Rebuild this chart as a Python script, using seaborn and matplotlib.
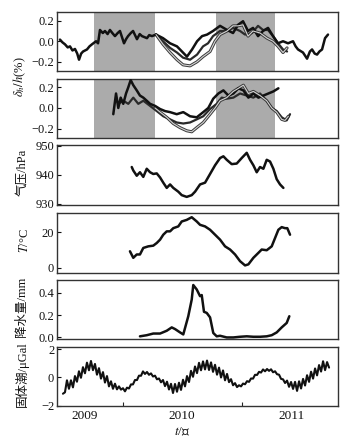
import numpy as np
import pandas as pd
import matplotlib
matplotlib.use("Agg")
import matplotlib.pyplot as plt
import seaborn as sns

sns.set_style("ticks")
plt.rcParams['font.family'] = ['Liberation Serif', 'Noto Sans CJK SC', 'DejaVu Sans']
plt.rcParams['mathtext.fontset'] = 'stix'

# ---------------- data (decimal years, values) ----------------
shade_spans = [(2009.26, 2009.77), (2010.28, 2010.78)]

# panel 1: delta h / h (%)
p1a_t = [2008.970, 2008.990, 2009.012, 2009.035, 2009.054, 2009.075, 2009.096, 2009.115, 2009.130, 2009.148,
         2009.164, 2009.197, 2009.218, 2009.239, 2009.273, 2009.290, 2009.306, 2009.330, 2009.348, 2009.370,
         2009.390, 2009.410, 2009.432, 2009.455, 2009.474, 2009.508, 2009.525, 2009.542, 2009.565, 2009.584,
         2009.617, 2009.640, 2009.659, 2009.701, 2009.720, 2009.743, 2009.777, 2009.836, 2009.895, 2009.953,
         2009.995, 2010.037, 2010.080, 2010.122, 2010.164, 2010.206, 2010.256, 2010.315, 2010.374, 2010.424,
         2010.466, 2010.508, 2010.550, 2010.592, 2010.634, 2010.676, 2010.718, 2010.760, 2010.802, 2010.844,
         2010.886, 2010.928, 2010.950, 2010.970, 2011.012, 2011.046, 2011.070, 2011.088, 2011.110, 2011.130,
         2011.150, 2011.172, 2011.197, 2011.222]
p1a_v = [0.016, -0.01, -0.03, -0.06, -0.05, -0.09, -0.075, -0.12, -0.18, -0.12,
         -0.10, -0.08, -0.05, -0.03, 0.0, -0.02, 0.11, 0.08, 0.10, 0.07,
         0.11, 0.08, 0.05, 0.08, 0.10, -0.02, 0.02, 0.05, 0.08, 0.10,
         0.02, 0.07, 0.05, 0.03, 0.06, 0.05, 0.065, 0.03, -0.02, -0.05,
         -0.10, -0.15, -0.08, 0.0, 0.05, 0.065, 0.10, 0.15, 0.11, 0.08,
         0.16, 0.195, 0.10, 0.13, 0.05, 0.10, 0.13, 0.05, -0.02, 0.0,
         -0.02, 0.0, -0.05, -0.08, -0.11, -0.17, -0.10, -0.08, -0.12, -0.13,
         -0.10, -0.08, 0.03, 0.065]
p1b_t = [2009.777, 2009.836, 2009.895, 2009.953, 2010.004, 2010.063, 2010.122, 2010.172, 2010.214, 2010.256,
         2010.315, 2010.374, 2010.424, 2010.483, 2010.525, 2010.584, 2010.634, 2010.676, 2010.718, 2010.760,
         2010.802, 2010.844, 2010.878]
p1b_v = [0.065, 0.0, -0.065, -0.11, -0.16, -0.18, -0.13, -0.05, -0.02, 0.05,
         0.10, 0.10, 0.13, 0.10, 0.065, 0.08, 0.15, 0.11, 0.11, 0.05,
         -0.02, -0.08, -0.10]
p1c_t = [2009.777, 2009.836, 2009.895, 2009.953, 2010.004, 2010.063, 2010.122, 2010.172, 2010.231, 2010.273,
         2010.315, 2010.374, 2010.424, 2010.466, 2010.508, 2010.550, 2010.592, 2010.651, 2010.710, 2010.760,
         2010.802, 2010.844, 2010.878]
p1c_v = [0.065, -0.03, -0.11, -0.18, -0.23, -0.24, -0.20, -0.15, -0.10, 0.0,
         0.065, 0.10, 0.15, 0.15, 0.16, 0.05, 0.10, 0.08, 0.03, 0.0,
         -0.05, -0.11, -0.065]

# panel 2: delta h / h (%)
p2a_t = [2009.418, 2009.441, 2009.460, 2009.480, 2009.502, 2009.525, 2009.544, 2009.564, 2009.586, 2009.615,
         2009.642, 2009.670, 2009.699, 2009.727, 2009.769, 2009.811, 2009.853, 2009.895, 2009.951, 2010.006,
         2010.063, 2010.119, 2010.174, 2010.216, 2010.258, 2010.301, 2010.343, 2010.385, 2010.427, 2010.469,
         2010.511, 2010.553, 2010.595, 2010.637, 2010.679, 2010.721, 2010.763, 2010.805]
p2a_v = [-0.06, 0.14, 0.0, 0.10, 0.04, 0.14, 0.20, 0.27, 0.22, 0.17,
         0.12, 0.10, 0.07, 0.04, 0.02, -0.01, -0.03, -0.04, -0.06, -0.04,
         -0.08, -0.09, -0.04, 0.0, 0.09, 0.14, 0.17, 0.12, 0.14, 0.19,
         0.17, 0.10, 0.14, 0.10, 0.12, 0.14, 0.16, 0.19]
p2b_t = [2009.460, 2009.502, 2009.544, 2009.586, 2009.628, 2009.670, 2009.727, 2009.783, 2009.838, 2009.895,
         2009.951, 2010.006, 2010.063, 2010.119, 2010.174, 2010.231, 2010.287, 2010.329, 2010.371, 2010.427,
         2010.483, 2010.539, 2010.595, 2010.651, 2010.707, 2010.749, 2010.791, 2010.833, 2010.875, 2010.903]
p2b_v = [0.04, 0.07, 0.04, 0.10, 0.04, 0.07, 0.02, -0.03, -0.08, -0.11,
         -0.14, -0.15, -0.14, -0.11, -0.08, -0.01, 0.04, 0.10, 0.09, 0.10,
         0.14, 0.12, 0.10, 0.14, 0.07, 0.0, -0.03, -0.09, -0.12, -0.06]
p2c_t = [2009.769, 2009.811, 2009.867, 2009.922, 2009.979, 2010.035, 2010.077, 2010.119, 2010.174, 2010.231,
         2010.273, 2010.315, 2010.371, 2010.427, 2010.469, 2010.511, 2010.553, 2010.595, 2010.651, 2010.707,
         2010.749, 2010.791, 2010.833, 2010.861, 2010.889]
p2c_v = [0.0, -0.04, -0.09, -0.15, -0.19, -0.22, -0.23, -0.19, -0.14, -0.06,
         0.0, 0.07, 0.10, 0.16, 0.19, 0.22, 0.14, 0.16, 0.12, 0.07,
         0.0, -0.04, -0.11, -0.12, -0.08]

# panel 3: air pressure (hPa)
pres_t = [2009.573, 2009.586, 2009.615, 2009.642, 2009.670, 2009.699, 2009.727, 2009.754, 2009.783, 2009.811,
          2009.838, 2009.867, 2009.895, 2009.922, 2009.964, 2009.993, 2010.035, 2010.077, 2010.105, 2010.147,
          2010.189, 2010.231, 2010.273, 2010.315, 2010.343, 2010.371, 2010.413, 2010.455, 2010.497, 2010.539,
          2010.567, 2010.595, 2010.623, 2010.651, 2010.679, 2010.707, 2010.735, 2010.763, 2010.791, 2010.819,
          2010.847]
pres_v = [942.7, 941.5, 939.7, 940.9, 939.3, 942.1, 940.9, 940.3, 940.5, 939.1,
          937.3, 935.5, 936.7, 935.5, 934.2, 933.0, 932.4, 933.0, 934.2, 936.7,
          937.3, 940.3, 943.3, 945.8, 946.4, 945.2, 943.7, 943.9, 945.8, 947.6,
          945.2, 943.3, 940.9, 942.7, 942.1, 945.2, 944.6, 942.1, 938.5, 936.7,
          935.5]

# panel 4: temperature (C)
temp_t = [2009.558, 2009.586, 2009.615, 2009.642, 2009.670, 2009.712, 2009.754, 2009.783, 2009.811, 2009.838,
          2009.867, 2009.895, 2009.922, 2009.964, 2009.993, 2010.035, 2010.077, 2010.119, 2010.147, 2010.189,
          2010.231, 2010.273, 2010.315, 2010.357, 2010.399, 2010.441, 2010.483, 2010.525, 2010.553, 2010.595,
          2010.637, 2010.665, 2010.707, 2010.749, 2010.777, 2010.805, 2010.833, 2010.861, 2010.880, 2010.903]
temp_v = [9.3, 5.6, 7.5, 7.5, 11.2, 12.1, 12.5, 14.0, 15.9, 18.7,
          20.6, 20.6, 22.4, 23.4, 26.2, 27.1, 28.6, 26.2, 24.3, 23.4,
          21.5, 18.7, 15.9, 12.1, 10.3, 7.5, 3.7, 1.3, 1.9, 5.6,
          8.4, 10.3, 9.9, 12.1, 16.8, 21.5, 23.0, 22.4, 22.4, 18.7]

# panel 5: precipitation (mm)
prec_t = [2009.642, 2009.699, 2009.754, 2009.811, 2009.867, 2009.909, 2009.937, 2009.979, 2010.006, 2010.048,
          2010.077, 2010.090, 2010.119, 2010.147, 2010.161, 2010.180, 2010.203, 2010.231, 2010.258, 2010.287,
          2010.315, 2010.371, 2010.427, 2010.483, 2010.539, 2010.595, 2010.651, 2010.707, 2010.749, 2010.791,
          2010.833, 2010.875, 2010.897]
prec_v = [0.01, 0.02, 0.035, 0.035, 0.06, 0.09, 0.075, 0.045, 0.027, 0.19,
          0.34, 0.47, 0.43, 0.37, 0.38, 0.23, 0.22, 0.18, 0.04, 0.01,
          0.015, 0.0, 0.0, 0.006, 0.01, 0.006, 0.006, 0.01, 0.02, 0.045,
          0.09, 0.13, 0.19]

# panel 6: solid earth tide (uGal), regular sampling
tide_start, tide_end = 2008.995, 2011.231
tide_v = [-1.15, -1.05, -0.2, -0.8, -0.2, -0.7, 0.1, -0.3, 0.44, -0.02,
          0.73, 0.3, 1.05, 0.51, 1.17, 0.52, 0.96, 0.2, 0.66, -0.08,
          0.38, -0.36, 0.1, -0.63, -0.27, -0.8, -0.44, -0.84, -0.63, -0.86,
          -0.76, -0.98, -0.72, -0.78, -0.49, -0.49, -0.18, -0.18, 0.13, 0.12,
          0.43, 0.25, 0.39, 0.19, 0.29, 0.07, 0.13, -0.13, -0.07, -0.34,
          -0.18, -0.61, -0.3, -0.85, -0.45, -1.1, -0.46, -1.01, -0.37, -0.88,
          -0.16, -0.63, 0.1, -0.32, 0.47, 0.05, 0.78, 0.31, 1.04, 0.51,
          1.14, 0.57, 1.2, 0.53, 1.07, 0.4, 0.9, 0.2, 0.7, 0.0,
          0.5, -0.2, 0.25, -0.33, -0.12, -0.55, -0.4, -0.68, -0.55, -0.63,
          -0.43, -0.48, -0.26, -0.31, -0.07, -0.08, 0.19, 0.18, 0.4, 0.35,
          0.57, 0.44, 0.6, 0.47, 0.58, 0.37, 0.44, 0.23, 0.2, -0.1,
          -0.13, -0.39, -0.22, -0.66, -0.32, -0.81, -0.31, -0.95, -0.27, -0.78,
          -0.1, -0.57, 0.16, -0.31, 0.41, -0.08, 0.64, 0.15, 0.88, 0.42,
          1.15, 0.52, 1.09, 0.7]
tide_t = np.linspace(tide_start, tide_end, len(tide_v))

year_labels = ["2009", "2010", "2011"]
year_label_pos = [2009.18, 2009.995, 2010.92]
major_ticks = [2009.5, 2010.5]
xlim = (2008.945, 2011.306)

ylabels = [r"$\delta_h/h$(%)", "气压/hPa", r"$T$/°C", "降水量/mm", "固体潮/μGal"]

# ---------------- figure ----------------
W, H = 348, 441
fig = plt.figure(figsize=(W / 100, H / 100), dpi=100)

left = 57 / W
width = (338 - 57) / W
panel_px = [(12, 71), (79, 138), (145, 205), (213, 273), (280, 339), (347, 406)]
axes = []
for top, bot in panel_px:
    ax = fig.add_axes([left, 1 - bot / H, width, (bot - top) / H])
    axes.append(ax)

ink = '#111111'
lw = 1.8

def draw(ax, t, v, color=ink, lw=lw, zorder=3):
    df = pd.DataFrame({"t": t, "v": v})
    sns.lineplot(data=df, x="t", y="v", ax=ax, color=color, lw=lw, sort=False,
                 estimator=None, zorder=zorder, solid_joinstyle='round')

def hollow(ax, t, v):
    draw(ax, t, v, color='#3a3a3a', lw=2.2, zorder=3)
    draw(ax, t, v, color='#d4d4d4', lw=0.8, zorder=3.5)

shade = '#ababab'

# panel 1
ax = axes[0]
for a, b in shade_spans:
    ax.axvspan(a, b, color=shade, lw=0, zorder=1)
hollow(ax, p1c_t, p1c_v)
draw(ax, p1b_t, p1b_v, color='#2a2a2a', lw=1.6)
draw(ax, p1a_t, p1a_v)
ax.set_ylim(-0.29, 0.285)
ax.set_yticks([-0.2, 0.0, 0.2])
ax.set_yticklabels(["\u22120.2", "0.0", "0.2"])

# panel 2
ax = axes[1]
for a, b in shade_spans:
    ax.axvspan(a, b, color=shade, lw=0, zorder=1)
hollow(ax, p2c_t, p2c_v)
draw(ax, p2b_t, p2b_v, color='#2a2a2a', lw=1.6)
draw(ax, p2a_t, p2a_v)
ax.set_ylim(-0.29, 0.28)
ax.set_yticks([-0.2, 0.0, 0.2])
ax.set_yticklabels(["\u22120.2", "0.0", "0.2"])

# panel 3
ax = axes[2]
draw(ax, pres_t, pres_v)
ax.set_ylim(929.6, 950.3)
ax.set_yticks([930, 940, 950])
ax.set_yticklabels(["930", "940", "950"])

# panel 4
ax = axes[3]
draw(ax, temp_t, temp_v)
ax.set_ylim(-3, 31)
ax.set_yticks([0, 20])
ax.set_yticklabels(["0", "20"])

# panel 5
ax = axes[4]
draw(ax, prec_t, prec_v)
ax.set_ylim(-0.014, 0.515)
ax.set_yticks([0.0, 0.2, 0.4])
ax.set_yticklabels(["0.0", "0.2", "0.4"])

# panel 6
ax = axes[5]
draw(ax, tide_t, tide_v, lw=1.5)
ax.set_ylim(-2.02, 2.16)
ax.set_yticks([-2, 0, 2])
ax.set_yticklabels(["\u22122", "0", "2"])

for i, ax in enumerate(axes):
    ax.set_xlim(*xlim)
    ax.set_xlabel("")
    ax.set_ylabel("")
    for s in ax.spines.values():
        s.set_visible(True)
        s.set_color('#333333')
        s.set_linewidth(1.0)
    ax.tick_params(axis='y', direction='in', length=3, width=0.8, pad=2,
                   labelsize=9, colors='#111111', left=True, right=False)
    ax.tick_params(axis='x', which='both', bottom=False, top=False, labelbottom=False)

# bottom axis: mid-year ticks, year labels
ax = axes[5]
ax.set_xticks(major_ticks)
ax.tick_params(axis='x', which='major', bottom=True, direction='in', length=3,
               width=0.8, labelbottom=False)
ax.set_xticks(year_label_pos, minor=True)
ax.set_xticklabels(year_labels, minor=True)
ax.tick_params(axis='x', which='minor', bottom=True, length=0, pad=3,
               labelbottom=True, labelsize=9.5, labelcolor='#111111')

# y-axis labels
lab_kw = dict(rotation=90, ha='center', va='center', fontsize=9, color='#111111')
fig.text(20 / W, 1 - 77 / H, ylabels[0], **lab_kw)
fig.text(22 / W, 1 - 172 / H, ylabels[1], **lab_kw)
fig.text(25 / W, 1 - 240 / H, ylabels[2], **lab_kw)
fig.text(22 / W, 1 - 307 / H, ylabels[3], **lab_kw)
fig.text(22 / W, 1 - 374 / H, ylabels[4], **lab_kw)

fig.text(182 / W, 1 - 432 / H, r"$t$/年", ha='center', va='center', fontsize=9.5, color='#111111')

fig.savefig("out.png", dpi=100, facecolor='white')
